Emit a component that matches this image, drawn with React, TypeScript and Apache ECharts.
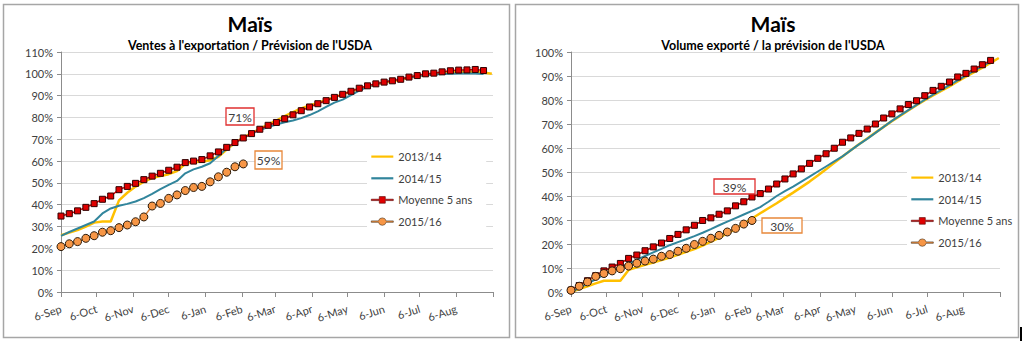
import React, { useEffect, useRef } from "react";
import * as echarts from "echarts";

const FONT = "Lato, 'Open Sans', 'Liberation Sans', sans-serif";

// Month ticks in days after 6-Sep
const MONTH_TICK_DAYS = [0, 30, 61, 91, 122, 153, 181, 212, 242, 273, 303, 334, 365];
const MONTH_LABELS = ["6-Sep", "6-Oct", "6-Nov", "6-Dec", "6-Jan", "6-Feb", "6-Mar", "6-Apr", "6-May", "6-Jun", "6-Jul", "6-Aug", ""];
const DAYS_PER_WEEK = 7;

const SERIES_NAMES = ["2013/14", "2014/15", "Moyenne 5 ans", "2015/16"];

// Left chart: Ventes à l'exportation / Prévision de l'USDA (weekly, %)
const salesY1314 = [26.0, 27.2, 28.4, 30.0, 31.8, 32.3, 32.3, 42.0, 45.5, 48.3, 50.6, 52.2, 53.1, 54.0, 55.4, 58.8, 59.6, 59.7, 60.4, 62.0, 65.3, 68.4, 70.8, 72.8, 74.8, 76.8, 78.6, 80.6, 82.4, 84.1, 85.5, 86.7, 88.0, 89.3, 90.6, 91.9, 93.1, 94.2, 95.2, 96.0, 96.6, 97.3, 98.2, 99.0, 99.6, 100.0, 100.3, 100.6, 100.8, 100.9, 101.0, 100.6, 100.0];
const salesY1415 = [25.7, 27.5, 29.1, 30.7, 32.3, 36.0, 38.3, 39.5, 40.4, 41.5, 43.0, 45.0, 47.1, 49.1, 50.9, 54.4, 56.2, 57.4, 59.0, 62.3, 65.9, 68.4, 70.6, 72.5, 74.2, 75.6, 76.8, 77.8, 78.6, 79.7, 81.1, 82.8, 84.8, 86.8, 88.2, 90.2, 92.3, 94.0, 95.2, 96.2, 96.9, 97.6, 98.3, 98.9, 99.4, 99.7, 99.9, 100.0, 100.1, 100.1, 100.1, 99.9];
const salesAvg = [34.8, 35.9, 37.2, 38.8, 40.5, 42.5, 44.0, 46.9, 48.4, 49.8, 51.5, 53.1, 54.4, 55.8, 57.2, 59.3, 60.0, 60.7, 62.4, 64.2, 66.3, 68.5, 70.6, 72.6, 74.6, 76.4, 77.7, 79.4, 81.2, 83.1, 84.8, 86.3, 87.7, 89.2, 90.6, 92.0, 93.4, 94.5, 95.4, 96.2, 96.8, 97.5, 98.5, 99.2, 100.0, 100.3, 100.9, 101.4, 101.7, 101.8, 102.0, 101.5];
const salesY1516 = [20.8, 22.1, 23.1, 24.6, 25.8, 27.4, 28.1, 29.5, 30.7, 32.2, 34.4, 39.4, 40.6, 42.9, 44.5, 46.5, 47.9, 48.4, 50.5, 52.8, 54.9, 57.4, 58.7];

// Right chart: Volume exporté / la prévision de l'USDA (weekly, %)
const shipY1314 = [0.0, 1.2, 2.4, 3.6, 4.7, 4.7, 4.7, 9.2, 10.3, 11.3, 12.3, 13.3, 14.4, 15.5, 16.7, 17.9, 19.3, 21.0, 22.6, 24.4, 26.3, 28.4, 30.6, 32.8, 34.9, 37.0, 39.2, 41.4, 43.7, 46.0, 48.5, 51.1, 53.8, 56.5, 59.1, 61.6, 64.0, 66.4, 68.8, 71.2, 73.4, 75.6, 77.8, 79.9, 81.9, 83.8, 85.7, 87.7, 89.7, 91.6, 93.5, 95.5, 97.5];
const shipY1415 = [0.0, 1.7, 3.5, 5.3, 7.2, 8.7, 10.2, 11.8, 13.4, 15.0, 16.5, 18.0, 19.5, 20.8, 22.0, 23.3, 24.7, 26.2, 27.8, 29.3, 30.8, 32.3, 33.8, 35.4, 37.6, 40.0, 42.0, 43.9, 46.0, 48.1, 50.2, 52.3, 54.4, 56.5, 59.0, 61.5, 63.8, 66.3, 68.8, 71.3, 73.6, 75.8, 78.0, 80.1, 82.2, 84.2, 86.2, 88.2, 90.2, 92.2, 94.1, 96.0];
const shipAvg = [0.8, 2.7, 4.7, 6.8, 8.8, 10.4, 11.9, 14.0, 15.4, 17.2, 18.8, 20.4, 22.3, 24.0, 25.9, 27.8, 29.8, 30.9, 32.4, 33.8, 35.9, 37.6, 39.6, 41.0, 42.9, 45.0, 47.1, 49.2, 51.3, 53.6, 55.7, 57.6, 59.9, 62.4, 64.2, 66.1, 67.9, 70.0, 72.5, 74.2, 76.3, 78.1, 79.7, 81.8, 84.0, 85.7, 87.5, 89.6, 91.1, 92.9, 94.7, 96.5];
const shipY1516 = [0.7, 2.4, 4.2, 6.5, 7.7, 8.8, 9.7, 10.8, 12.0, 12.9, 13.7, 14.9, 15.6, 17.0, 18.2, 19.8, 21.1, 22.4, 23.6, 25.0, 26.5, 28.3, 29.8];

const toPairs = (vals: number[]) => vals.map((v, i) => [i * DAYS_PER_WEEK, v]);

const TEXT_COLOR = "#404040";
const GRID_COLOR = "#d9d9d9";
const AXIS_COLOR = "#8c8c8c";

const COLOR_1314 = "#FFC000";
const COLOR_1415 = "#31859C";
const COLOR_AVG = "#E00000";
const COLOR_1516 = "#F79646";

// Legend icons (Excel style: line with marker in the middle). Leading moves fix the box.
const ICON_LINE = "path://M0,0M22,10M0,4h22v2.2h-22z";
const ICON_SQUARE = "path://M0,0M22,10M0,4.3h8v-2.6h6v2.6h8v1.4h-8v2.6h-6v-2.6h-8z";
const ICON_CIRCLE = "path://M0,0M22,10M0,4.3h7.2a3.9,3.9 0 0 1 7.6,0h7.2v1.4h-7.2a3.9,3.9 0 0 1 -7.6,0h-7.2z";

function xAxisFor(gridIndex: number) {
  return {
    type: "value",
    gridIndex,
    min: 0,
    max: 365,
    axisLine: { show: true, lineStyle: { color: AXIS_COLOR, width: 1 } },
    axisTick: { show: true, customValues: MONTH_TICK_DAYS, length: 5, lineStyle: { color: AXIS_COLOR } },
    splitLine: { show: false },
    axisLabel: {
      customValues: MONTH_TICK_DAYS,
      formatter: (v: number) => {
        const i = MONTH_TICK_DAYS.indexOf(Math.round(v));
        return i >= 0 ? MONTH_LABELS[i] : "";
      },
      rotate: 18,
      margin: 16,
      color: TEXT_COLOR,
      fontSize: 11,
      fontFamily: FONT,
    },
  };
}

function yAxisFor(gridIndex: number, max: number) {
  return {
    type: "value",
    gridIndex,
    min: 0,
    max,
    interval: 10,
    axisLine: { show: true, lineStyle: { color: AXIS_COLOR, width: 1 } },
    axisTick: { show: true, length: 4, lineStyle: { color: AXIS_COLOR } },
    splitLine: { show: true, lineStyle: { color: GRID_COLOR, width: 1 } },
    axisLabel: { formatter: "{value}%", color: TEXT_COLOR, fontSize: 11, fontFamily: FONT, margin: 8 },
  };
}

function seriesFor(idx: number, y1314: number[], y1415: number[], avg: number[], y1516: number[]) {
  return [
    {
      name: SERIES_NAMES[0], type: "line", xAxisIndex: idx, yAxisIndex: idx,
      data: toPairs(y1314), showSymbol: false, symbol: "none",
      lineStyle: { color: COLOR_1314, width: 2.5 }, itemStyle: { color: COLOR_1314 },
    },
    {
      name: SERIES_NAMES[1], type: "line", xAxisIndex: idx, yAxisIndex: idx,
      data: toPairs(y1415), showSymbol: false, symbol: "none",
      lineStyle: { color: COLOR_1415, width: 2 }, itemStyle: { color: COLOR_1415 },
    },
    {
      name: SERIES_NAMES[2], type: "line", xAxisIndex: idx, yAxisIndex: idx,
      data: toPairs(avg), symbol: "rect", symbolSize: 6, showSymbol: true,
      lineStyle: { color: COLOR_AVG, width: 1.5 },
      itemStyle: { color: COLOR_AVG, borderColor: "#300000", borderWidth: 1 },
    },
    {
      name: SERIES_NAMES[3], type: "line", xAxisIndex: idx, yAxisIndex: idx,
      data: toPairs(y1516), symbol: "circle", symbolSize: 8, showSymbol: true,
      lineStyle: { color: "#D9843F", width: 1.5 },
      itemStyle: { color: COLOR_1516, borderColor: "#2a1a0a", borderWidth: 1 },
    },
  ];
}

function legendFor(left: number, top: number, padRight: number) {
  return {
    orient: "vertical",
    left,
    top,
    itemWidth: 22,
    itemHeight: 10,
    itemGap: 10.7,
    padding: [5, padRight, 5, 4],
    backgroundColor: "#ffffff",
    data: [
      { name: SERIES_NAMES[0], icon: ICON_LINE, itemStyle: { color: COLOR_1314, borderWidth: 0 } },
      { name: SERIES_NAMES[1], icon: ICON_LINE, itemStyle: { color: COLOR_1415, borderWidth: 0 } },
      { name: SERIES_NAMES[2], icon: ICON_SQUARE, itemStyle: { color: COLOR_AVG, borderColor: "#500000", borderWidth: 0.6 } },
      { name: SERIES_NAMES[3], icon: ICON_CIRCLE, itemStyle: { color: COLOR_1516, borderColor: "#4a3018", borderWidth: 0.6 } },
    ],
    textStyle: { color: TEXT_COLOR, fontSize: 11, fontFamily: FONT },
    selectedMode: false,
  };
}

function labelBox(x: number, y: number, w: number, h: number, text: string, stroke: string) {
  return {
    type: "group",
    children: [
      { type: "rect", shape: { x, y, width: w, height: h }, style: { fill: "#ffffff", stroke, lineWidth: 1.3 }, z: 100 },
      {
        type: "text", x: x + w / 2, y: y + h / 2 + 0.5, z: 101,
        style: { text, fill: TEXT_COLOR, fontSize: 12, fontFamily: FONT, textAlign: "center", textVerticalAlign: "middle" },
      },
    ],
  };
}

export default function App() {
  const ref = useRef<HTMLDivElement>(null);
  useEffect(() => {
    if (!ref.current) return;
    const chart = echarts.init(ref.current, undefined, { renderer: "svg" });
    chart.setOption({
      animation: false,
      backgroundColor: "#ffffff",
      grid: [
        { left: 61, top: 52, width: 432, height: 240, containLabel: false },
        { left: 571, top: 52, width: 429, height: 240, containLabel: false },
      ],
      xAxis: [xAxisFor(0), xAxisFor(1)],
      yAxis: [yAxisFor(0, 110), yAxisFor(1, 100)],
      legend: [legendFor(367, 146, 14), legendFor(907, 167, 3)],
      series: [
        ...seriesFor(0, salesY1314, salesY1415, salesAvg, salesY1516),
        ...seriesFor(1, shipY1314, shipY1415, shipAvg, shipY1516),
      ],
      graphic: [
        { type: "rect", shape: { x: 3.5, y: 4.5, width: 506, height: 333 }, style: { fill: "none", stroke: "#a6a6a6", lineWidth: 1.5 }, silent: true, z: 200 },
        { type: "rect", shape: { x: 515.5, y: 4.5, width: 503, height: 333 }, style: { fill: "none", stroke: "#a6a6a6", lineWidth: 1.5 }, silent: true, z: 200 },
        { type: "rect", shape: { x: 1020, y: 327, width: 2, height: 14 }, style: { fill: "#000000" }, silent: true },
        { type: "text", x: 250, y: 23, style: { text: "Maïs", fill: "#000000", fontSize: 21, fontWeight: "bold", fontFamily: FONT, textAlign: "center", textVerticalAlign: "middle" } },
        { type: "text", x: 250, y: 45, style: { text: "Ventes à l'exportation / Prévision de l'USDA", fill: "#000000", fontSize: 12.5, fontWeight: "bold", fontFamily: FONT, textAlign: "center", textVerticalAlign: "middle" } },
        { type: "text", x: 773, y: 23, style: { text: "Maïs", fill: "#000000", fontSize: 21, fontWeight: "bold", fontFamily: FONT, textAlign: "center", textVerticalAlign: "middle" } },
        { type: "text", x: 773, y: 45, style: { text: "Volume exporté / la prévision de l'USDA", fill: "#000000", fontSize: 12.5, fontWeight: "bold", fontFamily: FONT, textAlign: "center", textVerticalAlign: "middle" } },
        labelBox(226, 108, 28, 17, "71%", "#E03030"),
        labelBox(255, 151, 27, 18, "59%", "#E8883A"),
        labelBox(714, 179, 41, 15, "39%", "#E03030"),
        labelBox(762, 218, 40, 15, "30%", "#E8883A"),
      ],
    });
    return () => chart.dispose();
  }, []);
  return <div ref={ref} style={{ position: "absolute", left: 0, top: 0, width: 1024, height: 342 }} />;
}
